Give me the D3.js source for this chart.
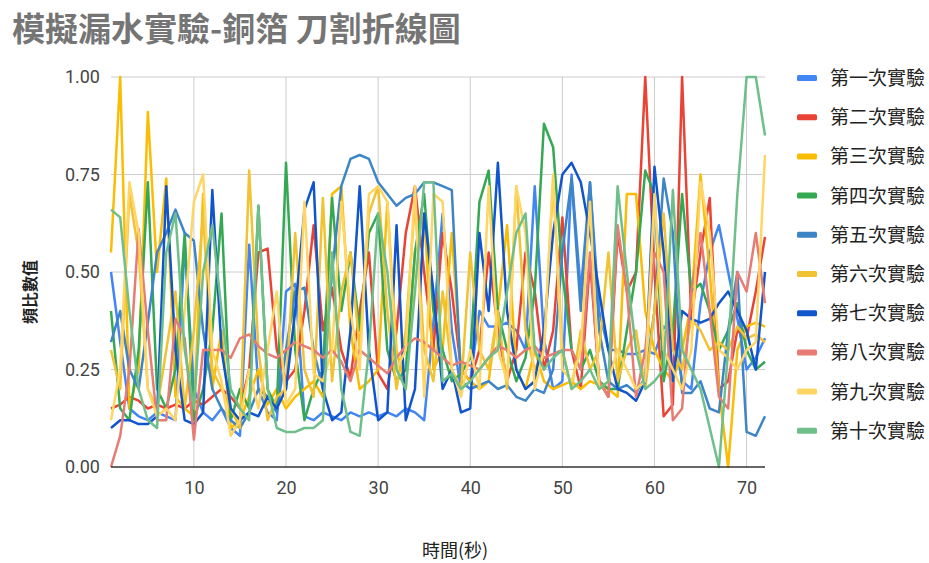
<!DOCTYPE html>
<html>
<head>
<meta charset="utf-8">
<script src="https://cdn.jsdelivr.net/npm/d3@7"></script>
<style>
  body { margin: 0; background: #fff; }
  svg { display: block; }
  text { font-family: Roboto, "Noto Sans CJK TC", sans-serif; }
</style>
</head>
<body>
<svg id="chart" width="929" height="563"></svg>
<script>
// ---- data ----
var seriesNames = ["第一次實驗","第二次實驗","第三次實驗","第四次實驗","第五次實驗",
                   "第六次實驗","第七次實驗","第八次實驗","第九次實驗","第十次實驗"];
var seriesColors = ["#4285f4","#ea4335","#fbbc04","#34a853","#3d85c6",
                    "#f1c232","#1155cc","#e67c73","#ffd666","#6fbf8a"];
var xTicks = [10, 20, 30, 40, 50, 60, 70];
var yTicks = [0, 0.25, 0.5, 0.75, 1];

var run1 = [0.50,0.32,0.15,0.13,0.12,0.14,0.13,0.12,0.57,0.20,0.14,0.12,
            0.15,0.10,0.08,0.57,0.20,0.14,0.12,0.45,0.47,0.13,0.12,0.14,
            0.13,0.12,0.14,0.13,0.14,0.13,0.14,0.13,0.15,0.14,0.12,0.37,
            0.65,0.35,0.20,0.22,0.40,0.36,0.36,0.37,0.35,0.30,0.72,0.33,
            0.20,0.22,0.75,0.45,0.73,0.40,0.30,0.30,0.29,0.29,0.30,0.29,
            0.36,0.35,0.22,0.20,0.42,0.55,0.62,0.50,0.38,0.25,0.28,0.33];
var run2 = [0.15,0.16,0.18,0.17,0.15,0.16,0.15,0.16,0.15,0.17,0.16,0.18,
            0.20,0.18,0.15,0.25,0.55,0.56,0.30,0.22,0.25,0.40,0.62,0.35,
            0.46,0.30,0.23,0.40,0.55,0.24,0.20,0.35,0.60,0.72,0.50,0.30,
            0.60,0.45,0.25,0.22,0.30,0.55,0.35,0.22,0.30,0.55,0.45,0.25,
            0.35,0.64,0.30,0.20,0.53,0.22,0.18,0.60,0.45,0.50,1.00,0.50,
            0.13,0.16,1.00,0.38,0.55,0.69,0.20,0.22,0.35,0.33,0.45,0.59];
var run3 = [0.55,1.00,0.15,0.25,0.91,0.50,0.74,0.18,0.15,0.13,0.70,0.20,
            0.35,0.10,0.12,0.18,0.25,0.16,0.20,0.15,0.18,0.20,0.22,0.18,
            0.70,0.72,0.35,0.20,0.22,0.25,0.68,0.30,0.20,0.55,0.65,0.25,
            0.30,0.60,0.25,0.22,0.20,0.22,0.40,0.62,0.25,0.20,0.30,0.22,
            0.20,0.21,0.22,0.20,0.22,0.21,0.20,0.18,0.70,0.70,0.40,0.30,
            0.25,0.22,0.30,0.42,0.75,0.50,0.20,0.00,0.30,0.36,0.37,0.36];
var run4 = [0.40,0.15,0.12,0.30,0.73,0.20,0.15,0.25,0.60,0.12,0.20,0.35,
            0.65,0.12,0.20,0.15,0.67,0.20,0.15,0.78,0.30,0.12,0.20,0.25,
            0.69,0.40,0.55,0.35,0.60,0.65,0.30,0.22,0.25,0.55,0.70,0.40,
            0.30,0.22,0.24,0.28,0.68,0.76,0.40,0.30,0.22,0.28,0.45,0.88,
            0.82,0.50,0.30,0.25,0.30,0.22,0.20,0.20,0.35,0.50,0.76,0.70,
            0.22,0.35,0.70,0.45,0.47,0.40,0.30,0.35,0.42,0.30,0.25,0.27];
var run5 = [0.32,0.40,0.25,0.20,0.37,0.55,0.60,0.66,0.60,0.58,0.35,0.20,
            0.15,0.12,0.10,0.14,0.20,0.18,0.14,0.30,0.45,0.46,0.30,0.20,
            0.50,0.72,0.79,0.80,0.79,0.73,0.70,0.67,0.69,0.70,0.73,0.73,
            0.72,0.71,0.22,0.20,0.21,0.22,0.20,0.21,0.18,0.17,0.20,0.19,
            0.25,0.55,0.74,0.40,0.73,0.35,0.22,0.20,0.21,0.19,0.23,0.40,
            0.74,0.60,0.19,0.19,0.22,0.15,0.14,0.35,0.50,0.09,0.08,0.13];
var run6 = [0.30,0.20,0.70,0.55,0.20,0.15,0.30,0.45,0.15,0.35,0.65,0.25,
            0.20,0.15,0.10,0.76,0.30,0.12,0.18,0.20,0.60,0.25,0.18,0.69,
            0.22,0.45,0.55,0.30,0.65,0.72,0.40,0.20,0.35,0.68,0.30,0.22,
            0.45,0.25,0.20,0.55,0.30,0.25,0.40,0.20,0.72,0.35,0.25,0.30,
            0.73,0.30,0.20,0.35,0.25,0.30,0.55,0.22,0.30,0.35,0.20,0.40,
            0.65,0.30,0.25,0.38,0.35,0.30,0.32,0.30,0.36,0.33,0.34,0.32];
var run7 = [0.10,0.12,0.12,0.11,0.11,0.13,0.72,0.30,0.12,0.11,0.14,0.71,
            0.30,0.15,0.12,0.14,0.13,0.18,0.15,0.20,0.40,0.66,0.73,0.20,
            0.12,0.14,0.35,0.72,0.30,0.12,0.14,0.62,0.12,0.20,0.65,0.45,
            0.20,0.25,0.14,0.15,0.60,0.40,0.78,0.40,0.25,0.20,0.22,0.35,
            0.60,0.75,0.78,0.73,0.60,0.45,0.30,0.20,0.19,0.17,0.22,0.77,
            0.55,0.22,0.40,0.38,0.37,0.38,0.42,0.45,0.40,0.35,0.25,0.50];
var run8 = [0.00,0.08,0.25,0.61,0.35,0.12,0.12,0.38,0.33,0.07,0.30,0.30,
            0.30,0.28,0.33,0.34,0.31,0.29,0.28,0.30,0.32,0.31,0.30,0.28,
            0.30,0.27,0.22,0.30,0.28,0.26,0.24,0.28,0.31,0.33,0.32,0.30,
            0.28,0.26,0.27,0.26,0.25,0.28,0.31,0.30,0.28,0.30,0.31,0.28,
            0.29,0.30,0.30,0.25,0.55,0.22,0.18,0.62,0.45,0.18,0.30,0.55,
            0.50,0.12,0.15,0.45,0.60,0.40,0.18,0.15,0.50,0.45,0.60,0.42];
var run9 = [0.12,0.25,0.73,0.60,0.20,0.13,0.15,0.12,0.40,0.68,0.75,0.30,
            0.22,0.08,0.12,0.25,0.15,0.30,0.45,0.16,0.20,0.68,0.24,0.22,
            0.30,0.68,0.40,0.25,0.70,0.72,0.68,0.25,0.30,0.72,0.18,0.70,
            0.68,0.25,0.18,0.30,0.20,0.72,0.30,0.22,0.72,0.60,0.20,0.30,
            0.75,0.25,0.22,0.30,0.68,0.20,0.22,0.30,0.25,0.20,0.22,0.70,
            0.30,0.25,0.20,0.30,0.73,0.60,0.30,0.28,0.25,0.30,0.32,0.80];
var run10 = [0.66,0.64,0.40,0.20,0.12,0.10,0.55,0.65,0.30,0.15,0.50,0.62,
             0.40,0.20,0.15,0.12,0.67,0.20,0.10,0.09,0.09,0.10,0.10,0.12,
             0.55,0.20,0.09,0.08,0.30,0.65,0.50,0.25,0.20,0.45,0.73,0.73,
             0.22,0.24,0.20,0.22,0.25,0.28,0.30,0.45,0.60,0.65,0.30,0.25,
             0.28,0.30,0.20,0.22,0.25,0.20,0.22,0.72,0.50,0.30,0.20,0.22,
             0.25,0.71,0.30,0.25,0.20,0.10,0.00,0.30,0.70,1.00,1.00,0.85];
var runs = [run1, run2, run3, run4, run5, run6, run7, run8, run9, run10];

// ---- layout ----
var margin = {left: 111, right: 164, top: 77, bottom: 96};
var W = 929, H = 563;
var svg = d3.select("#chart");

var x = d3.scaleLinear().domain([1, 72]).range([margin.left, W - margin.right]);
var y = d3.scaleLinear().domain([0, 1]).range([H - margin.bottom, margin.top]);

// title
svg.append("text")
  .attr("x", 12).attr("y", 41)
  .attr("font-size", 33).attr("font-weight", "bold")
  .attr("fill", "#757575")
  .style("font-family", "'Noto Sans CJK TC', sans-serif")
  .text("模擬漏水實驗-銅箔 刀割折線圖");

// gridlines
var grid = svg.append("g");
grid.selectAll("line.h").data(yTicks.filter(function(d){ return d > 0; }))
  .enter().append("line")
  .attr("x1", x(1)).attr("x2", x(72))
  .attr("y1", function(d){ return y(d); }).attr("y2", function(d){ return y(d); })
  .attr("stroke", "#cccccc").attr("stroke-width", 1);
grid.selectAll("line.v").data(xTicks)
  .enter().append("line")
  .attr("y1", y(0)).attr("y2", y(1))
  .attr("x1", function(d){ return x(d); }).attr("x2", function(d){ return x(d); })
  .attr("stroke", "#cccccc").attr("stroke-width", 1);

// axes (labels only)
var yAxis = svg.append("g")
  .attr("transform", "translate(" + x(1) + ",0)")
  .call(d3.axisLeft(y).tickValues(yTicks).tickFormat(d3.format(".2f")).tickSize(0).tickPadding(11));
yAxis.select(".domain").remove();
yAxis.selectAll("text").attr("font-size", 18).attr("fill", "#444").style("font-family", "Roboto");

var xAxis = svg.append("g")
  .attr("transform", "translate(0," + y(0) + ")")
  .call(d3.axisBottom(x).tickValues(xTicks).tickSize(0).tickPadding(14));
xAxis.select(".domain").remove();
xAxis.selectAll("text").attr("font-size", 18).attr("fill", "#444").style("font-family", "Roboto");

// lines
var line = d3.line()
  .x(function(d, i){ return x(i + 1); })
  .y(function(d){ return y(d); });

svg.append("g").selectAll("path")
  .data(runs)
  .enter().append("path")
  .attr("d", line)
  .attr("fill", "none")
  .attr("stroke", function(d, i){ return seriesColors[i]; })
  .attr("stroke-width", 2.5)
  .attr("stroke-linejoin", "round");

// baseline
svg.append("line")
  .attr("x1", x(1)).attr("x2", x(72))
  .attr("y1", y(0)).attr("y2", y(0))
  .attr("stroke", "#333").attr("stroke-width", 1.5);

// axis titles
svg.append("text")
  .attr("x", 455).attr("y", 557)
  .attr("text-anchor", "middle")
  .attr("font-size", 18).attr("fill", "#222")
  .style("font-family", "'Noto Sans CJK TC', sans-serif")
  .text("時間(秒)");

svg.append("text")
  .attr("transform", "translate(36,292) rotate(-90)")
  .attr("text-anchor", "middle")
  .attr("font-size", 16).attr("font-weight", "bold").attr("fill", "#222")
  .style("font-family", "'Noto Sans CJK TC', sans-serif")
  .text("頻比數值");

// legend
var legend = svg.append("g").selectAll("g")
  .data(seriesNames)
  .enter().append("g")
  .attr("transform", function(d, i){ return "translate(797," + (78 + i * 39.2) + ")"; });
legend.append("rect")
  .attr("x", 0).attr("y", -3).attr("width", 20).attr("height", 6).attr("rx", 1.5)
  .attr("fill", function(d, i){ return seriesColors[i]; });
legend.append("text")
  .attr("x", 33).attr("y", 7)
  .attr("font-size", 19).attr("fill", "#222")
  .style("font-family", "'Noto Sans CJK TC', sans-serif")
  .text(function(d){ return d; });
</script>
</body>
</html>
